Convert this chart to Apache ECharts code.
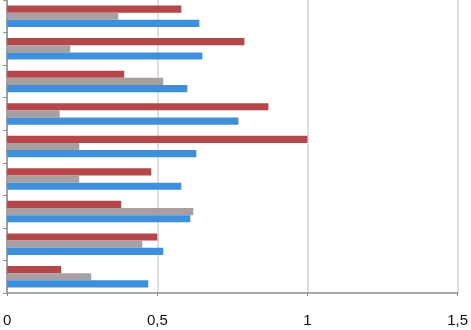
<!DOCTYPE html>
<html><head><meta charset="utf-8">
<script src="https://cdn.jsdelivr.net/npm/echarts@6/dist/echarts.min.js"></script>
<style>html,body{margin:0;padding:0;background:#fff}#c{width:471px;height:330px}</style>
</head><body><div id="c"></div>
<script>
var categories = ['1','2','3','4','5','6','7','8','9'];
var redValues  = [0.58, 0.79, 0.39, 0.87, 1.00, 0.48, 0.38, 0.50, 0.18];
var grayValues = [0.37, 0.21, 0.52, 0.175, 0.24, 0.24, 0.62, 0.45, 0.28];
var blueValues = [0.64, 0.65, 0.60, 0.77, 0.63, 0.58, 0.61, 0.52, 0.47];
var xTicks = [0, 0.5, 1, 1.5];

var chart = echarts.init(document.getElementById('c'));
chart.setOption({
  animation: false,
  grid: {left: 5, right: 11, top: -2, bottom: 37, containLabel: false},
  xAxis: {
    type: 'value', min: xTicks[0], max: xTicks[xTicks.length-1], interval: 0.5,
    axisLine: {show: true, lineStyle: {color: '#8c8c8c', width: 1.5}},
    axisTick: {show: true, length: 3, lineStyle: {color: '#8c8c8c'}},
    splitLine: {show: true, lineStyle: {color: '#d4d4d4', width: 1.5}},
    axisLabel: {color: '#111', fontSize: 15, margin: 20, fontFamily: '"Liberation Sans Narrow", "Liberation Sans", sans-serif',
      formatter: function(v){ return String(v).replace('.', ','); }}
  },
  yAxis: {
    type: 'category', data: categories, inverse: true,
    axisLine: {show: true, lineStyle: {color: '#8c8c8c', width: 1.5}},
    axisTick: {show: true, length: 4, lineStyle: {color: '#8c8c8c'}},
    axisLabel: {show: false}
  },
  series: [
    {type: 'bar', data: redValues, itemStyle: {color: '#b5464a'}, barGap: '0%', barCategoryGap: '34%'},
    {type: 'bar', data: grayValues, itemStyle: {color: '#a8a0a0'}, barGap: '0%', barCategoryGap: '34%'},
    {type: 'bar', data: blueValues, itemStyle: {color: '#3e90dc'}, barGap: '0%', barCategoryGap: '34%'}
  ]
});
</script></body></html>
